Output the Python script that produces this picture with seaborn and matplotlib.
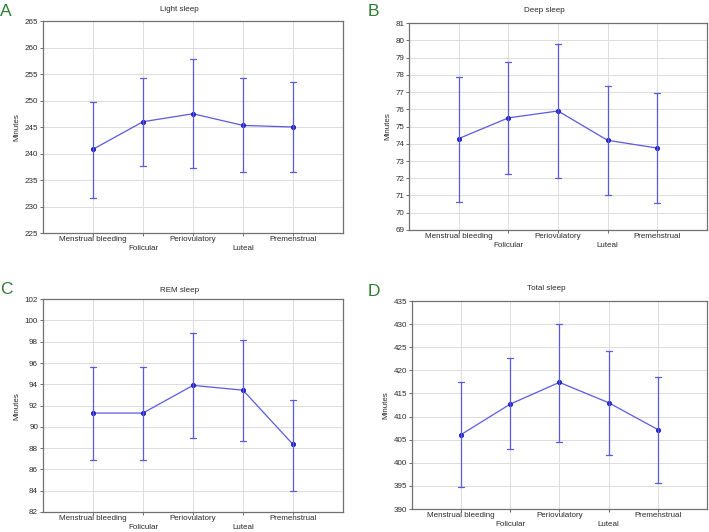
import matplotlib.pyplot as plt
import pandas as pd
import seaborn as sns

phases = ["Menstrual bleeding", "Folicular", "Periovulatory", "Luteal", "Premenstrual"]

# means and interval ends
light_mean = [240.8, 246.0, 247.5, 245.3, 245.0]
light_low = [231.6, 237.7, 237.2, 236.5, 236.6]
light_high = [249.7, 254.2, 257.8, 254.2, 253.5]

deep_mean = [74.3, 75.5, 75.9, 74.2, 73.75]
deep_low = [70.65, 72.25, 72.0, 71.05, 70.55]
deep_high = [77.85, 78.75, 79.8, 77.35, 76.95]

rem_mean = [91.3, 91.3, 93.9, 93.45, 88.35]
rem_low = [86.85, 86.85, 89.0, 88.65, 84.0]
rem_high = [95.6, 95.6, 98.8, 98.2, 92.5]

total_mean = [406.1, 412.7, 417.4, 413.0, 407.2]
total_low = [394.8, 402.9, 404.6, 401.7, 395.6]
total_high = [417.5, 422.6, 430.1, 424.2, 418.6]

sns.set_style("white")
plt.rcParams["font.family"] = ["Liberation Sans", "DejaVu Sans"]

fig = plt.figure(figsize=(7.09, 5.32), dpi=100)

panels = [
    ("A", "Light sleep", light_mean, light_low, light_high, (225, 265), 5,
     [0.0606, 0.562, 0.4232, 0.3985], (0.0, 0.979), 0.052),
    ("B", "Deep sleep", deep_mean, deep_low, deep_high, (69, 81), 1,
     [0.577, 0.5677, 0.420, 0.389], (0.518, 0.978), 0.062),
    ("C", "REM sleep", rem_mean, rem_low, rem_high, (82, 102), 2,
     [0.0606, 0.0376, 0.4232, 0.400], (0.0, 0.455), 0.043),
    ("D", "Total sleep", total_mean, total_low, total_high, (390, 435), 5,
     [0.581, 0.0432, 0.416, 0.391], (0.518, 0.452), 0.058),
]

line_col = "#5a5ae0"
dot_col = "#2424c8"
txt_col = "#2a2a2a"

for letter, title, mean, low, high, ylim, step, rect, lpos, toff in panels:
    ax = fig.add_axes(rect)

    # three values per phase: median gives the mean, min/max give the interval
    rows = []
    for p, lo, m, hi in zip(phases, low, mean, high):
        for v in (lo, m, hi):
            rows.append({"phase": p, "value": v})
    df = pd.DataFrame(rows)

    sns.pointplot(
        data=df, x="phase", y="value", order=phases,
        estimator="median", errorbar=("pi", 100),
        capsize=0.12, color=line_col, markers="o",
        markersize=3.0, linewidth=0.9,
        markeredgecolor=dot_col, markerfacecolor=dot_col,
        err_kws={"color": line_col, "linewidth": 0.9},
        ax=ax,
    )

    ax.set_xlim(-1, 5)
    ax.set_ylim(*ylim)
    ax.set_yticks(list(range(ylim[0], ylim[1] + 1, step)))
    ax.set_xticks(range(len(phases)))
    ax.set_xticklabels(phases)
    ax.grid(True, color="#dcdcdc", linewidth=0.7)
    ax.set_axisbelow(True)
    for s in ax.spines.values():
        s.set_color("#707070")
        s.set_linewidth(0.9)
    ax.tick_params(axis="both", labelsize=5.8, colors="#555555", length=2,
                   width=0.6, left=True, bottom=True)
    ax.tick_params(axis="both", labelcolor=txt_col)
    ax.tick_params(axis="y", pad=1.5)
    # staggered category labels
    for i, t in enumerate(ax.xaxis.get_major_ticks()):
        t.set_pad(6.3 if i % 2 else 0.5)
    ax.set_xlabel("")
    ax.set_ylabel("Minutes", fontsize=5.8, color=txt_col, labelpad=3)
    ax.text(0.455, 1 + toff, title, transform=ax.transAxes, fontsize=5.8,
            color=txt_col, ha="center", va="center")
    fig.text(lpos[0], lpos[1], letter, fontsize=12.5, color="#2e7d32",
             ha="left", va="center")

fig.savefig("out.png", dpi=100, facecolor="white")
